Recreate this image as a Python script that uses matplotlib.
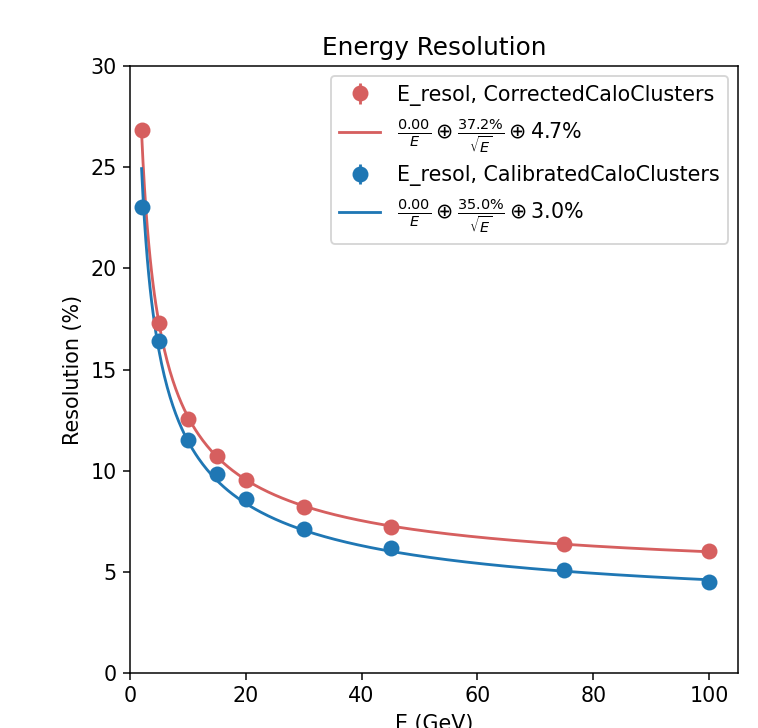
import matplotlib
matplotlib.use("Agg")
import matplotlib.pyplot as plt
import numpy as np

# beam energies (GeV)
energies = [2, 5, 10, 15, 20, 30, 45, 75, 100]

# measured resolution (%)
res_corrected = [26.85, 17.3, 12.55, 10.73, 9.54, 8.2, 7.22, 6.38, 6.03]
err_corrected = [0.15, 0.1, 0.08, 0.07, 0.06, 0.05, 0.05, 0.04, 0.04]
res_calibrated = [23.05, 16.4, 11.52, 9.84, 8.6, 7.12, 6.18, 5.09, 4.5]
err_calibrated = [0.15, 0.1, 0.08, 0.07, 0.06, 0.05, 0.05, 0.04, 0.04]

# fit parameters: noise, stochastic (%), constant (%)
fit_corrected = (0.00, 37.2, 4.7)
fit_calibrated = (0.00, 35.0, 3.0)

red = '#d65f5f'
blue = '#1f77b4'

plt.rcParams['font.size'] = 11


def resol(e, a, b, c):
    return np.sqrt((a / e) ** 2 + b ** 2 / e + c ** 2)


def fit_label(a, b, c):
    return (r'$\frac{%.2f}{E} \oplus \frac{%.1f\%%}{\sqrt{E}} \oplus %.1f\%%$'
            % (a, b, c))


fig = plt.figure(figsize=(758 / 135, 728 / 135), dpi=135)
ax = fig.add_axes([0.1715, 0.0755, 0.8021, 0.8338])

e_fine = np.linspace(energies[0], energies[-1], 400)

h1 = ax.errorbar(energies, res_corrected, yerr=err_corrected, fmt='o',
                 color=red, markersize=7.5,
                 label='E_resol, CorrectedCaloClusters')
h2, = ax.plot(e_fine, resol(e_fine, *fit_corrected), color=red,
              label=fit_label(*fit_corrected))
h3 = ax.errorbar(energies, res_calibrated, yerr=err_calibrated, fmt='o',
                 color=blue, markersize=7.5,
                 label='E_resol, CalibratedCaloClusters')
h4, = ax.plot(e_fine, resol(e_fine, *fit_calibrated), color=blue,
              label=fit_label(*fit_calibrated))

ax.set_xlim(0, 105)
ax.set_ylim(0, 30)
ax.set_xlabel('E (GeV)')
ax.set_ylabel('Resolution (%)')
ax.set_title('Energy Resolution')
ax.legend(handles=[h1, h2, h3, h4], loc='upper right')

fig.savefig('out.png', dpi=135)
